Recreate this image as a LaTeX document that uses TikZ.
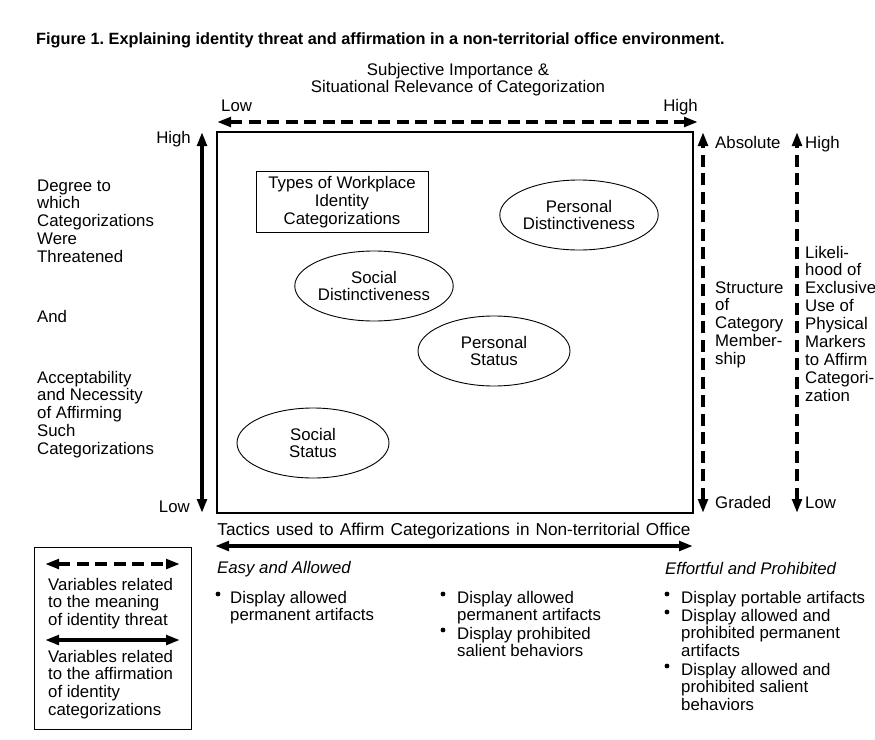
\documentclass[tikz,border=0pt]{standalone}
\usepackage{fontspec}
\setmainfont{Liberation Sans}
\usetikzlibrary{arrows.meta,shapes.geometric}
\frenchspacing
\newcommand\fs{\fontsize{16.8}{17.9}\selectfont}
\newcommand\lsk{17.9}
\newcommand\widesp{\spaceskip=6.1pt\relax}
\begin{document}
\begin{tikzpicture}[x=1pt,y=-1pt,
  txt/.style={font=\fs, align=left, inner sep=0pt, anchor=base west},
  rtxt/.style={font=\fs, align=right, inner sep=0pt, anchor=base east},
  ctxt/.style={font=\fs, align=center, inner sep=0pt, anchor=base},
  solidarr/.style={line width=3.6pt, {Triangle[length=14pt,width=9.5pt]}-{Triangle[length=14pt,width=9.5pt]}},
  dasharr/.style={solidarr, dash pattern=on 12pt off 6.5pt},
  oval/.style={ellipse, draw, line width=0.9pt, minimum width=152pt, minimum height=70pt, inner sep=0pt, font=\fs, align=center},
  bul/.style={circle, fill, inner sep=0pt, minimum size=4.8pt},
]
\useasboundingbox[fill=white] (0,0) rectangle (875,739);

% title
\node[anchor=base west, inner sep=0pt, font=\fontsize{16.3}{18}\selectfont\bfseries] (title) at (36,44)
  {Figure 1. Explaining identity threat and affirmation in a non-territorial office environment.};

% top axis
\node[ctxt] (subj) at (458,{75+\lsk}) {Subjective Importance \&\\Situational Relevance of Categorization};
\node[txt] (toplow) at (221,111) {Low};
\node[rtxt] (tophigh) at (698,111) {High};
\coordinate (tl) at (217,122);
\coordinate (tr) at (698,122);
\draw[dasharr] (tl) -- (tr);

% frame
\node[draw, line width=1.1pt, minimum width=476pt, minimum height=381pt, inner sep=0pt] (frame) at (455,322.5) {};

% left axis
\coordinate (lt) at (202,132);
\coordinate (lb) at (202,513);
\draw[solidarr] (lb) -- (lt);
\node[rtxt] (lhigh) at (191,143) {High};
\node[rtxt] (llow) at (190,512) {Low};
\node[txt] (ltext1) at (37,{191+4*\lsk}) {Degree to\\which\\Categorizations\\Were\\Threatened};
\node[txt] (ltext2) at (37,322) {And};
\node[txt] (ltext3) at (37,{383+4*\lsk}) {Acceptability\\and Necessity\\of Affirming\\Such\\Categorizations};

% inside
\node[draw, line width=1pt, minimum width=172pt, minimum height=61pt, inner sep=0pt, font=\fs, align=center] (types) at (342,202) {Types of Workplace\\Identity\\Categorizations};
\node[oval] (pd) at (579,215) {Personal\\Distinctiveness};
\node[oval] (sd) at (374,286) {Social\\Distinctiveness};
\node[oval] (ps) at (494,351) {Personal\\Status};
\node[oval] (ss) at (313,443) {Social\\Status};

% right axes
\coordinate (r1t) at (703,132);
\coordinate (r1b) at (703,513);
\draw[dasharr] (r1b) -- (r1t);
\coordinate (r2t) at (797,132);
\coordinate (r2b) at (797,513);
\draw[dasharr] (r2b) -- (r2t);
\node[txt] (abs) at (715,148) {Absolute};
\node[txt] (grad) at (715,508) {Graded};
\node[txt] (struct) at (715,{293+4*\lsk}) {Structure\\of\\Category\\Member-\\ship};
\node[txt] (rhigh) at (805,148) {High};
\node[txt] (rlow) at (805,508) {Low};
\node[txt] (likely) at (805,{258+8*\lsk}) {Likeli-\\hood of\\Exclusive\\Use of\\Physical\\Markers\\to Affirm\\Categori-\\zation};

% bottom axis
\node[ctxt, font=\fontsize{17.2}{18}\selectfont] (tactics) at (454,535) {\widesp Tactics used to Affirm Categorizations in Non-territorial Office};
\coordinate (bl) at (215,546);
\coordinate (br) at (693,546);
\draw[solidarr] (bl) -- (br);
\node[txt, font=\fs\itshape] (easy) at (217,573) {Easy and Allowed};
\node[txt, font=\fs\itshape] (effort) at (665,574) {Effortful and Prohibited};

% column 1
\node[bul] (b11) at (218,594) {};
\node[txt] (c11) at (230,{603+\lsk}) {Display allowed\\permanent artifacts};
% column 2
\node[bul] (b21) at (443,594) {};
\node[txt] (c21) at (457,{603+\lsk}) {Display allowed\\permanent artifacts};
\node[bul] (b22) at (443,630) {};
\node[txt] (c22) at (457,{639+\lsk}) {Display prohibited\\salient behaviors};
% column 3
\node[bul] (b31) at (667,594) {};
\node[txt] (c31) at (681,603) {Display portable artifacts};
\node[bul] (b32) at (667,612) {};
\node[txt] (c32) at (681,{621+2*\lsk}) {Display allowed and\\prohibited permanent\\artifacts};
\node[bul] (b33) at (667,666) {};
\node[txt] (c33) at (681,{675+2*\lsk}) {Display allowed and\\prohibited salient\\behaviors};

% legend
\node[draw, line width=1pt, minimum width=157pt, minimum height=182pt, inner sep=0pt] (legend) at (112.5,638) {};
\coordinate (g1l) at (45,564);
\coordinate (g1r) at (180,564);
\draw[dasharr] (g1l) -- (g1r);
\node[txt] (g1t) at (48,{590+2*\lsk}) {Variables related\\to the meaning\\of identity threat};
\coordinate (g2l) at (45,640);
\coordinate (g2r) at (180,640);
\draw[solidarr] (g2l) -- (g2r);
\node[txt] (g2t) at (48,{662+3*\lsk}) {Variables related\\to the affirmation\\of identity\\categorizations};
\end{tikzpicture}
\end{document}
